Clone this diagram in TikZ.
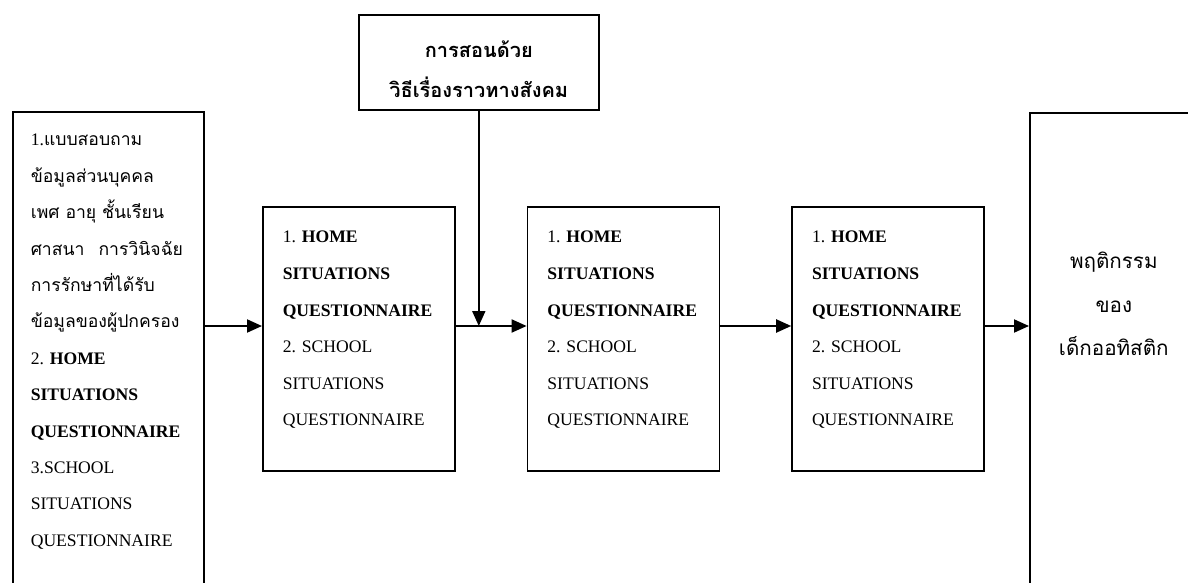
\documentclass[tikz,border=0pt]{standalone}
\usepackage{fontspec}
\setmainfont{Liberation Serif}
\newfontfamily\thaifont[Script=Thai]{Loma}
\usetikzlibrary{positioning,arrows.meta}
\newcommand{\tht}[1]{{\thaifont #1}}
% fixed-size text block, lines hung from the top
\newcommand{\panel}[4]{\parbox[c][#1][t]{#2}{\rule{0pt}{#3}#4}}
\tikzset{
	flowchart/.style={>={Triangle[length=7.5pt,width=6.5pt]}, line width=0.8pt},
	stage/.style={draw, inner xsep=10pt, inner ysep=6pt, anchor=north west,
		font=\fontsize{8.8}{18.3}\selectfont},
	flow/.style={->, line width=1pt}
}

\begin{document}
\begin{tikzpicture}[flowchart]
	\useasboundingbox (0,0) rectangle (594pt,-291.5pt);
	
	\node[stage, inner xsep=9pt, inner ysep=5pt, font=\fontsize{8.8}{18.2}\selectfont] (lb) at (6pt,-55.5pt)
		{\panel{240pt}{77.5pt}{12pt}{1.\tht{แบบสอบถาม}\\ \tht{ข้อมูลส่วนบุคคล}\\ \tht{เพศ อายุ ชั้นเรียน}\\ \mbox{\tht{ศาสนา}\hspace{7pt}\tht{การวินิจฉัย}}\\ \tht{การรักษาที่ได้รับ}\\ \tht{ข้อมูลของผู้ปกครอง}\\ 2. \textbf{HOME}\\ \textbf{SITUATIONS}\\ \textbf{QUESTIONNAIRE}\\ 3.SCHOOL\\ SITUATIONS\\ QUESTIONNAIRE}};
	\node[stage, inner xsep=2pt, inner ysep=3pt, font={\thaifont\bfseries\fontsize{10}{20}\selectfont}] (top) at (179pt,-7pt)
		{\panel{41.5pt}{116pt}{18.5pt}{\centering การสอนด้วย\\ วิธีเรื่องราวทางสังคม}};
	\node[stage] (s1) at (131pt,-103pt)
		{\panel{120pt}{76pt}{12pt}{1. \textbf{HOME}\\ \textbf{SITUATIONS}\\ \textbf{QUESTIONNAIRE}\\ 2. SCHOOL\\ SITUATIONS\\ QUESTIONNAIRE}};
	\node[stage] (s2) [right=35.5pt of s1]
		{\panel{120pt}{76pt}{12pt}{1. \textbf{HOME}\\ \textbf{SITUATIONS}\\ \textbf{QUESTIONNAIRE}\\ 2. SCHOOL\\ SITUATIONS\\ QUESTIONNAIRE}};
	\node[stage] (s3) [right=35.5pt of s2]
		{\panel{120pt}{76pt}{12pt}{1. \textbf{HOME}\\ \textbf{SITUATIONS}\\ \textbf{QUESTIONNAIRE}\\ 2. SCHOOL\\ SITUATIONS\\ QUESTIONNAIRE}};
	\node[stage, inner xsep=2pt, inner ysep=62pt, font={\thaifont\fontsize{10.3}{21.75}\selectfont}] (rb) at (514.5pt,-56pt)
		{\panel{140pt}{80pt}{16pt}{\centering พฤติกรรม\\ ของ\\ เด็กออทิสติก}};
	
	\coordinate (level) at (0,-163pt);
	\draw[flow] (lb.east |- level) -- (s1.west |- level);
	\draw[flow] (s1.east |- level) -- (s2.west |- level);
	\draw[flow] (s2.east |- level) -- (s3.west |- level);
	\draw[flow] (s3.east |- level) -- (rb.west |- level);
	\draw[flow] (top.south) -- (top.south |- level);
\end{tikzpicture}
\end{document}
